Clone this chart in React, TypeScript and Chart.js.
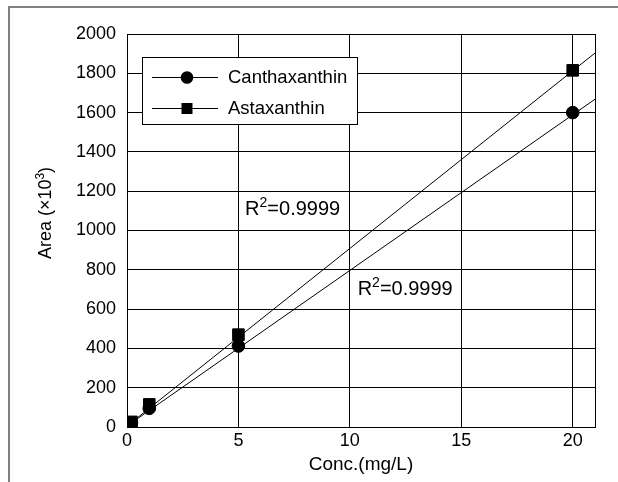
import React, { useEffect, useRef } from "react";
import { Chart, registerables } from "chart.js";

Chart.register(...registerables);

const concX = [0.05, 0.2, 1, 5, 20];
const canthaxanthin = [10, 20, 95, 412, 1600];
const astaxanthin = [14, 26, 115, 470, 1815];
const fitX = [0, 21];
const canthFit = [5, 1668];
const astaxFit = [5, 1903];
const xTicks = [0, 5, 10, 15, 20];
const seriesNames = ["Canthaxanthin", "Astaxanthin"];
const r2Labels = ["R2=0.9999", "R2=0.9999"];
const r2Pos = [
  { x: 5.3, y: 1107 },
  { x: 10.35, y: 699 },
];
const xTitle = "Conc.(mg/L)";
const FONT = "'Liberation Sans', Arial, sans-serif";

function drawSup(ctx: CanvasRenderingContext2D, x: number, y: number, base: string, sup: string, rest: string, size: number) {
  ctx.textAlign = "left";
  ctx.textBaseline = "middle";
  ctx.font = `${size}px ${FONT}`;
  ctx.fillText(base, x, y);
  let cx = x + ctx.measureText(base).width;
  ctx.font = `${Math.round(size * 0.68)}px ${FONT}`;
  ctx.fillText(sup, cx, y - size * 0.32);
  cx += ctx.measureText(sup).width;
  ctx.font = `${size}px ${FONT}`;
  ctx.fillText(rest, cx, y);
}

const overlay = {
  id: "overlay",
  beforeDraw(chart: any) {
    const ctx = chart.ctx;
    ctx.save();
    ctx.fillStyle = "#fff";
    ctx.fillRect(0, 0, chart.width, chart.height);
    ctx.strokeStyle = "#808080";
    ctx.lineWidth = 2;
    ctx.beginPath();
    ctx.moveTo(9, chart.height + 5);
    ctx.lineTo(9, 7);
    ctx.lineTo(chart.width + 5, 7);
    ctx.stroke();
    ctx.restore();
  },
  afterDraw(chart: any) {
    const ctx = chart.ctx;
    const a = chart.chartArea;
    const xs = chart.scales.x;
    const ys = chart.scales.y;
    ctx.save();
    ctx.strokeStyle = "#000";
    ctx.lineWidth = 1;
    ctx.strokeRect(a.left + 0.5, a.top + 0.5, a.right - a.left, a.bottom - a.top);

    // legend
    const lx = a.left + 15, ly = 57, lw = 215, lh = 67;
    ctx.fillStyle = "#fff";
    ctx.fillRect(lx, ly, lw, lh);
    ctx.strokeRect(lx + 0.5, ly + 0.5, lw, lh);
    const rows = [ly + 20, ly + 51];
    rows.forEach((ry, i) => {
      ctx.strokeStyle = "#000";
      ctx.lineWidth = 1;
      ctx.beginPath();
      ctx.moveTo(lx + 10, ry + 0.5);
      ctx.lineTo(lx + 76, ry + 0.5);
      ctx.stroke();
      ctx.fillStyle = "#000";
      if (i === 0) {
        ctx.beginPath();
        ctx.arc(lx + 45, ry + 0.5, 6.3, 0, Math.PI * 2);
        ctx.fill();
      } else {
        ctx.fillRect(lx + 45 - 5.5, ry - 5, 11, 11);
      }
      ctx.font = `18.5px ${FONT}`;
      ctx.textAlign = "left";
      ctx.textBaseline = "middle";
      ctx.fillText(seriesNames[i], lx + 86, ry + 1);
    });

    // R2 labels
    ctx.fillStyle = "#000";
    r2Pos.forEach((p, i) => {
      const t = r2Labels[i];
      drawSup(ctx, xs.getPixelForValue(p.x), ys.getPixelForValue(p.y), t[0], t[1], t.slice(2), 20);
    });

    // x title
    ctx.font = `19px ${FONT}`;
    ctx.textAlign = "center";
    ctx.textBaseline = "middle";
    ctx.fillText(xTitle, (a.left + a.right) / 2, 465);

    // y title
    ctx.translate(46, 213);
    ctx.rotate(-Math.PI / 2);
    ctx.font = `18px ${FONT}`;
    const w1 = ctx.measureText("Area (×10").width;
    ctx.font = `12px ${FONT}`;
    const w2 = ctx.measureText("3").width;
    ctx.font = `18px ${FONT}`;
    const w3 = ctx.measureText(")").width;
    const total = w1 + w2 + w3;
    drawSup(ctx, -total / 2, 0, "Area (×10", "3", ")", 18);
    ctx.restore();
  },
};

export default function App() {
  const ref = useRef<HTMLCanvasElement>(null);
  useEffect(() => {
    if (!ref.current) return;
    const chart = new Chart(ref.current, {
      type: "scatter",
      data: {
        datasets: [
          {
            type: "line",
            data: fitX.map((x, i) => ({ x, y: canthFit[i] })),
            borderColor: "#000",
            borderWidth: 1,
            pointRadius: 0,
            fill: false,
          },
          {
            type: "line",
            data: fitX.map((x, i) => ({ x, y: astaxFit[i] })),
            borderColor: "#000",
            borderWidth: 1,
            pointRadius: 0,
            fill: false,
          },
          {
            label: seriesNames[0],
            data: concX.map((x, i) => ({ x, y: canthaxanthin[i] })),
            pointStyle: "circle",
            pointRadius: 6.3,
            backgroundColor: "#000",
            borderColor: "#000",
            showLine: false,
          },
          {
            label: seriesNames[1],
            data: concX.map((x, i) => ({ x, y: astaxanthin[i] })),
            pointStyle: "rect",
            pointRadius: 8.2,
            backgroundColor: "#000",
            borderColor: "#000",
            showLine: false,
          },
        ],
      } as any,
      options: {
        animation: false,
        responsive: false,
        devicePixelRatio: 1,
        layout: { padding: { top: 34, right: 23, left: 0, bottom: 0 } },
        plugins: { legend: { display: false }, tooltip: { enabled: false } },
        scales: {
          x: {
            type: "linear",
            min: 0,
            max: 21,
            afterBuildTicks: (s: any) => {
              s.ticks = xTicks.map((v) => ({ value: v }));
            },
            ticks: {
              color: "#000",
              font: { family: FONT, size: 18 },
              padding: 3,
              callback: (v: any) => String(v),
            },
            grid: { color: "#000", lineWidth: 1, drawTicks: false },
            border: { color: "#000" },
            afterFit: (s: any) => {
              s.height = 55;
            },
          },
          y: {
            type: "linear",
            min: 0,
            max: 2000,
            ticks: {
              stepSize: 200,
              color: "#000",
              font: { family: FONT, size: 18 },
              padding: 11,
              callback: (v: any) => String(v),
            },
            grid: { color: "#000", lineWidth: 1, drawTicks: false },
            border: { color: "#000" },
            afterFit: (s: any) => {
              s.width = 127;
            },
          },
        },
      } as any,
      plugins: [overlay],
    });
    return () => chart.destroy();
  }, []);
  return (
    <div style={{ position: "absolute", left: 0, top: 0, width: 618, height: 482 }}>
      <canvas ref={ref} width={618} height={482} style={{ width: 618, height: 482 }} />
    </div>
  );
}
